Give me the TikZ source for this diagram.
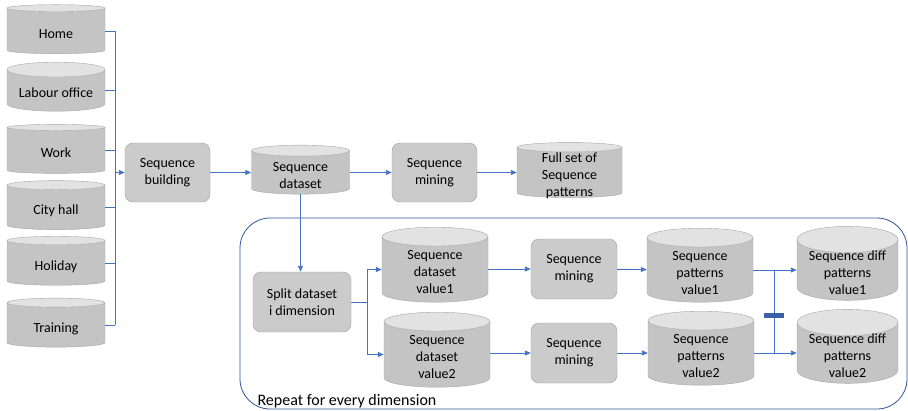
\documentclass[tikz,border=0pt]{standalone}
\usepackage{fontspec}
\setmainfont{Carlito}
\usetikzlibrary{shapes.geometric,arrows.meta}

\definecolor{cylbody}{HTML}{C4C4C4}
\definecolor{cylend}{HTML}{E2E2E2}
\definecolor{cylline}{HTML}{A6A6A6}
\definecolor{procfill}{HTML}{CBCBCB}
\definecolor{procline}{HTML}{A0A0A0}
\definecolor{wire}{HTML}{4472C4}
\definecolor{framecol}{HTML}{2F5597}

% text in a cylinder sits a little below its middle
\newcommand{\dbtext}[1]{\raisebox{-7.5pt}[0pt][0pt]{\begin{tabular}{@{}c@{}}#1\end{tabular}}}

\tikzset{
  db/.style 2 args={cylinder, shape border rotate=90, aspect=0.2,
    draw=cylline, cylinder uses custom fill, cylinder body fill=cylbody,
    cylinder end fill=cylend, minimum width=#1, minimum height=#2,
    inner sep=0pt},
  tall/.style={aspect=0.34},
  proc/.style 2 args={draw=procline, fill=procfill, rounded corners=8pt,
    minimum width=#1, minimum height=#2, inner sep=0pt, align=center},
  link/.style={draw=wire, line width=0.9pt},
  flow/.style={link, -{Triangle[length=6pt,width=5pt]}},
}

\begin{document}
\begin{tikzpicture}[x=1pt, y=-1pt, font=\fontsize{14}{16.8}\selectfont]
\useasboundingbox (0,0) rectangle (908,410);

% sources
\node[db={98pt}{49pt}] (home)    at (56,31)    {\dbtext{Home}};
\node[db={98pt}{49pt}] (labour)  at (56,90.5)  {\dbtext{Labour office}};
\node[db={98pt}{49pt}] (work)    at (56,150.5) {\dbtext{Work}};
\node[db={98pt}{49pt}] (cityhall) at (56,207.5) {\dbtext{City hall}};
\node[db={98pt}{49pt}] (holiday) at (56,263)   {\dbtext{Holiday}};
\node[db={98pt}{49pt}] (training) at (56,325)  {\dbtext{Training}};

\node[proc={85pt}{59pt}] (build)   at (167.5,172.5) {Sequence\\building};
\node[db={98pt}{49pt}]   (dataset) at (300.5,172.5) {\dbtext{Sequence\\dataset}};
\node[proc={85pt}{59pt}] (mining)  at (434.5,172.5) {Sequence\\mining};
\node[db={105pt}{55pt}, aspect=0.17] (fullset) at (569.5,172.5) {\dbtext{Full set of\\Sequence\\patterns}};

% repeated part
\draw[framecol, line width=0.8pt, rounded corners=30pt] (240,218) rectangle (907,409);
\node[anchor=base west, font=\fontsize{16}{19}\selectfont] (repeat) at (254,405) {Repeat for every dimension};

\node[proc={98pt}{60pt}] (split) at (302,302) {Split dataset\\i dimension};
\node[db={106pt}{75pt}, tall] (datav1) at (435,269.5) {\dbtext{Sequence\\dataset\\value1}};
\node[db={106pt}{75pt}, tall] (datav2) at (437,354.5) {\dbtext{Sequence\\dataset\\value2}};
\node[proc={86pt}{60pt}] (mine1) at (574,269) {Sequence\\mining};
\node[proc={86pt}{60pt}] (mine2) at (574,353) {Sequence\\mining};
\node[db={106pt}{74pt}, tall] (patv1) at (700,270) {\dbtext{Sequence\\patterns\\value1}};
\node[db={106pt}{74pt}, tall] (patv2) at (701,353) {\dbtext{Sequence\\patterns\\value2}};
\node[db={101pt}{74pt}, tall] (diffv1) at (847.5,270) {\dbtext{Sequence diff\\patterns\\value1}};
\node[db={101pt}{74pt}, tall] (diffv2) at (847.5,353) {\dbtext{Sequence diff\\patterns\\value2}};

\coordinate (bus) at (115,172.5);
\coordinate (fork) at (367,302);
\coordinate (join) at (774,315);

% connectors
\foreach \src in {home,labour,work,cityhall,holiday,training}
  \draw[link] (\src.east) -- (\src.east -| bus);
\draw[link] (home.east -| bus) -- (training.east -| bus);
\draw[flow] (bus) -- (build);
\draw[flow] (build) -- (dataset);
\draw[flow] (dataset) -- (mining);
\draw[flow] (mining) -- (fullset);
\draw[flow] (dataset.south) -- (dataset.south |- split.north);
\draw[link] (split) -- (fork);
\draw[flow] (fork) |- (datav1.west);
\draw[flow] (fork) |- (datav2.west);
\draw[flow] (datav1.east |- mine1.west) -- (mine1.west);
\draw[flow] (datav2.east |- mine2.west) -- (mine2.west);
\draw[flow] (mine1) -- (patv1);
\draw[flow] (mine2) -- (patv2);
\draw[flow] (patv1.east) -- (diffv1.west);
\draw[flow] (patv2.east) -- (diffv2.west);
\draw[link] (patv1.east -| join) -- (patv2.east -| join);
\fill[wire!85!black] ([xshift=-10pt,yshift=-2.5pt]join) rectangle ([xshift=10pt,yshift=2.5pt]join);
\end{tikzpicture}
\end{document}
